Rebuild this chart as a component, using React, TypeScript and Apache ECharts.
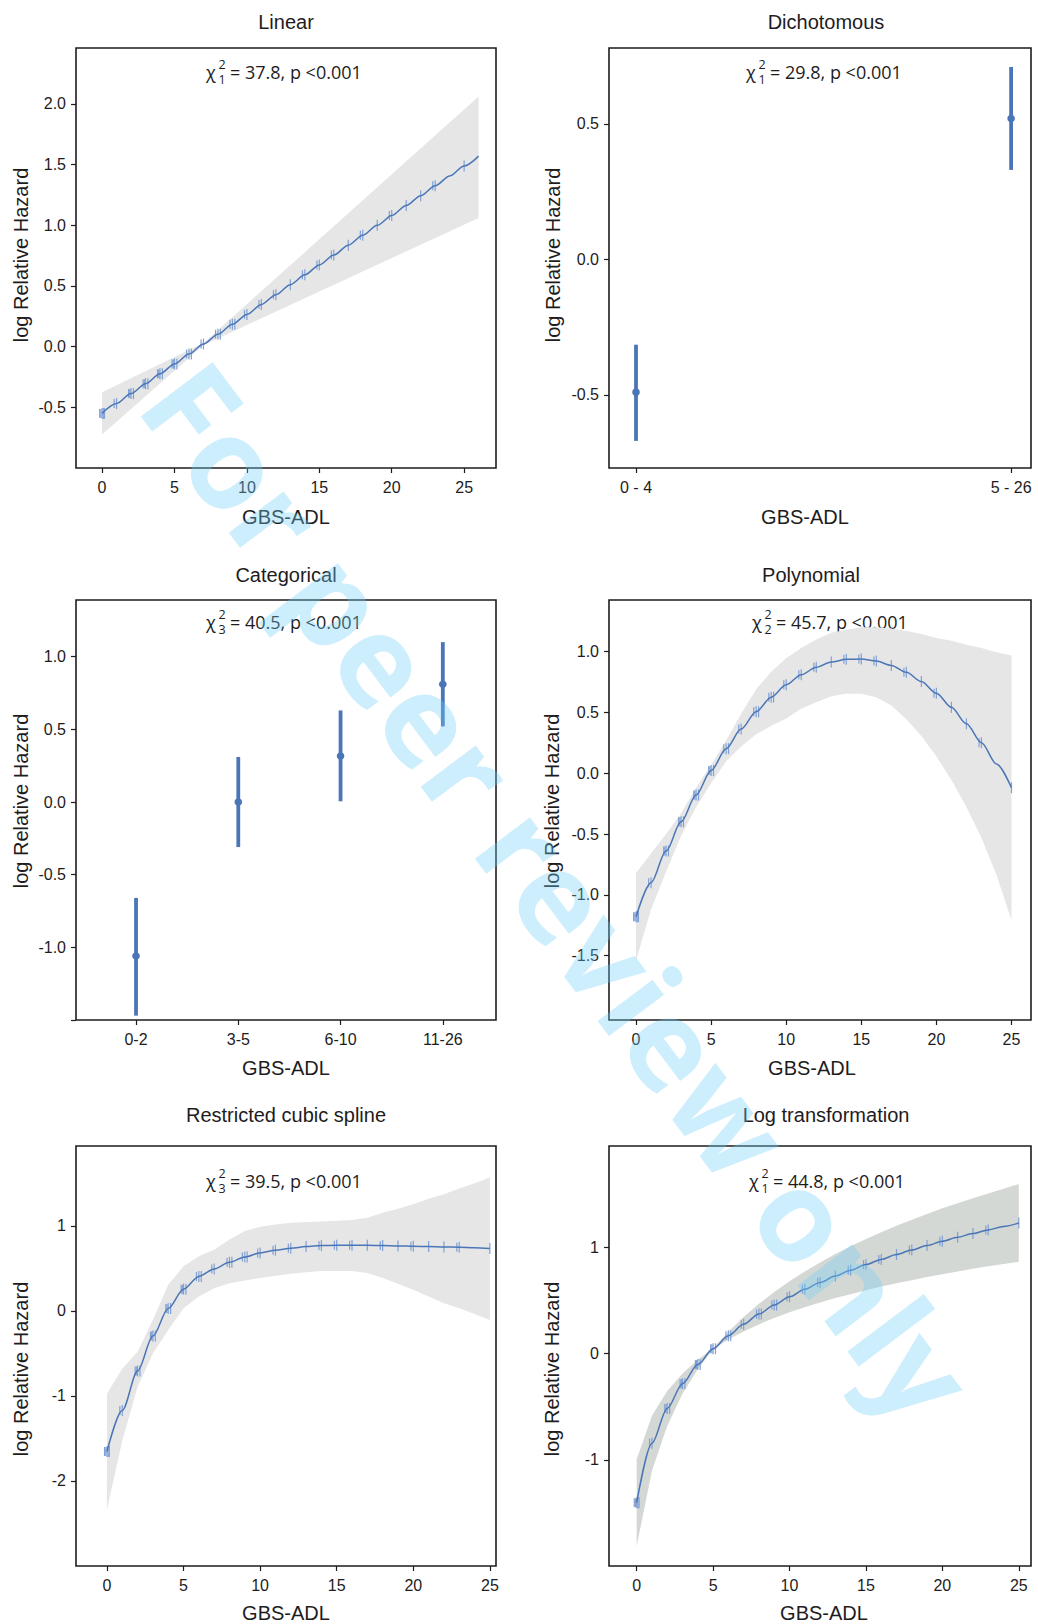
import React, { useEffect, useRef } from "react";
import * as echarts from "echarts";

// ---------------- DATA ----------------
// Linear model
const linX = [0, 1, 2, 3, 4, 5, 6, 7, 8, 9, 10, 11, 12, 13, 14, 15, 16, 17, 18, 19, 20, 21, 22, 23, 24, 25, 26];
const linY = [-0.55, -0.469, -0.387, -0.306, -0.224, -0.143, -0.061, 0.021, 0.102, 0.184, 0.265, 0.347, 0.428, 0.51, 0.591, 0.673, 0.754, 0.836, 0.917, 0.999, 1.08, 1.162, 1.243, 1.325, 1.406, 1.488, 1.569];
const linBandX = [0, 7, 26];
const linBandUpper = [-0.375, 0.03, 2.06];
const linBandLower = [-0.725, 0.012, 1.06];

// Dichotomous
const dichoCats = ["0 - 4", "5 - 26"];
const dichoEst = [-0.49, 0.52];
const dichoLower = [-0.67, 0.33];
const dichoUpper = [-0.315, 0.71];

// Categorical
const catCats = ["0-2", "3-5", "6-10", "11-26"];
const catEst = [-1.06, 0.0, 0.316, 0.81];
const catLower = [-1.47, -0.31, 0.005, 0.52];
const catUpper = [-0.66, 0.31, 0.63, 1.1];

// Shared score grid for the smooth models
const scoreX = [0, 1, 2, 3, 4, 5, 6, 7, 8, 9, 10, 11, 12, 13, 14, 15, 16, 17, 18, 19, 20, 21, 22, 23, 24, 25];

// Polynomial
const polyY = [-1.18, -0.9, -0.64, -0.4, -0.179, 0.022, 0.202, 0.363, 0.505, 0.626, 0.728, 0.81, 0.872, 0.915, 0.937, 0.94, 0.923, 0.887, 0.83, 0.754, 0.658, 0.542, 0.407, 0.251, 0.076, -0.119];
const polyUpper = [-0.82, -0.66, -0.5, -0.33, -0.12, 0.07, 0.27, 0.49, 0.69, 0.835, 0.946, 1.03, 1.1, 1.155, 1.18, 1.2, 1.2, 1.19, 1.17, 1.146, 1.113, 1.09, 1.057, 1.03, 0.996, 0.968];
const polyLower = [-1.54, -1.12, -0.81, -0.515, -0.28, -0.083, 0.098, 0.22, 0.32, 0.39, 0.45, 0.53, 0.584, 0.634, 0.654, 0.654, 0.626, 0.557, 0.445, 0.306, 0.139, -0.056, -0.278, -0.53, -0.835, -1.21];

// Restricted cubic spline
const rcsY = [-1.653, -1.17, -0.706, -0.296, 0.03, 0.256, 0.406, 0.493, 0.572, 0.635, 0.682, 0.714, 0.738, 0.757, 0.769, 0.773, 0.773, 0.773, 0.769, 0.765, 0.761, 0.757, 0.753, 0.75, 0.742, 0.734];
const rcsUpper = [-0.974, -0.68, -0.48, -0.106, 0.308, 0.525, 0.643, 0.72, 0.84, 0.939, 0.99, 1.018, 1.037, 1.045, 1.053, 1.06, 1.069, 1.097, 1.156, 1.203, 1.254, 1.32, 1.373, 1.44, 1.503, 1.57];
const rcsLower = [-2.335, -1.527, -0.895, -0.5, -0.225, 0.032, 0.17, 0.268, 0.327, 0.359, 0.387, 0.414, 0.438, 0.454, 0.469, 0.469, 0.469, 0.446, 0.387, 0.32, 0.249, 0.17, 0.091, 0.032, -0.036, -0.107];

// Log transformation
const logY = [-1.404, -0.844, -0.516, -0.283, -0.103, 0.045, 0.169, 0.277, 0.372, 0.458, 0.535, 0.605, 0.67, 0.73, 0.785, 0.838, 0.887, 0.933, 0.976, 1.018, 1.058, 1.095, 1.131, 1.165, 1.198, 1.23];
const logUpper = [-0.994, -0.584, -0.351, -0.188, -0.058, 0.05, 0.205, 0.345, 0.469, 0.58, 0.681, 0.773, 0.858, 0.937, 1.01, 1.079, 1.143, 1.204, 1.261, 1.315, 1.368, 1.416, 1.464, 1.508, 1.552, 1.596];
const logLower = [-1.814, -1.104, -0.681, -0.378, -0.148, 0.04, 0.133, 0.209, 0.275, 0.336, 0.389, 0.437, 0.482, 0.523, 0.56, 0.597, 0.631, 0.662, 0.691, 0.721, 0.748, 0.774, 0.798, 0.822, 0.844, 0.864];

// Number of observation (rug) ticks at each score 0..26
const rugCount = [5, 2, 4, 4, 4, 4, 3, 2, 3, 3, 2, 2, 2, 1, 2, 2, 2, 1, 2, 1, 2, 1, 1, 2, 0, 1, 0];

// Tick values
const scoreTicks = [0, 5, 10, 15, 20, 25];
const linYTicks = [-0.5, 0, 0.5, 1, 1.5, 2];
const dichoYTicks = [-0.5, 0, 0.5];
const catYTicks = [-1.5, -1, -0.5, 0, 0.5, 1];
const catYLabels = [-1, -0.5, 0, 0.5, 1];
const polyYTicks = [-1.5, -1, -0.5, 0, 0.5, 1];
const rcsYTicks = [-2, -1, 0, 1];
const logYTicks = [-1, 0, 1];

// Annotation texts
const titles = ["Linear", "Dichotomous", "Categorical", "Polynomial", "Restricted cubic spline", "Log transformation"];
const chiDf = ["1", "1", "3", "2", "3", "1"];
const chiStat = ["37.8", "29.8", "40.5", "45.7", "39.5", "44.8"];
const xName = "GBS-ADL";
const yName = "log Relative Hazard";
const watermark = "For peer review only";

// ---------------- STYLE / LAYOUT ----------------
const AX_FONT = "'Liberation Sans', Arial, Helvetica, sans-serif";
const CHI_FONT = "'Open Sans', 'Noto Sans', sans-serif";
const INK = "#1e1c1d";
const BLUE = "#4a76b7";
const RUG = "#7b9dd4";
const GRAY = "#e6e6e6";
const GRAY2 = "#d4d8d4";

const grids = [
  { left: 76, top: 48, width: 420, height: 420 },
  { left: 609, top: 48, width: 422, height: 420 },
  { left: 76, top: 600, width: 420, height: 420 },
  { left: 609, top: 600, width: 422, height: 420 },
  { left: 76, top: 1146, width: 420, height: 420 },
  { left: 609, top: 1146, width: 422, height: 420 },
];
const xRanges = [[-1.8, 27.2], [-0.072, 1.053], [-0.587, 3.52], [-1.8, 26.3], [-2.02, 25.4], [-1.81, 25.8]];
const yRanges = [[-1.0, 2.46], [-0.77, 0.78], [-1.5, 1.39], [-2.03, 1.425], [-3.0, 1.94], [-2.0, 1.955]];
const titlePos = [[286, 22], [826, 22], [286, 575], [811, 575], [286, 1115], [826, 1115]];
const chiPos = [[286, 72], [826, 72], [286, 622], [832, 622], [286, 1181], [829, 1181]];
const xNamePos = [[286, 517], [805, 517], [286, 1068], [812, 1068], [286, 1613], [824, 1613]];
const yNamePos = [[21, 255], [553, 255], [21, 801], [552, 801], [21, 1369], [552, 1369]];

const RUG_JITTER = [0, -2.4, 2.4, -1.2, 1.2, -3.4, 3.4];

function fmt1(v: number) {
  return (Math.abs(v) < 1e-9 ? 0 : v).toFixed(1);
}
function fmt0(v: number) {
  return String(Math.round(v));
}

function makeX(i: number, ticks: number[], formatter: (v: number) => string) {
  return {
    gridIndex: i,
    type: "value",
    min: xRanges[i][0],
    max: xRanges[i][1],
    axisLine: { show: false, onZero: false },
    splitLine: { show: false },
    axisTick: { show: true, length: 5, customValues: ticks, lineStyle: { color: INK, width: 1.2 } },
    axisLabel: { show: true, customValues: ticks, formatter, fontSize: 16, fontFamily: AX_FONT, color: INK, margin: 11 },
  };
}
function makeY(i: number, ticks: number[], labels: number[], formatter: (v: number) => string) {
  return {
    gridIndex: i,
    type: "value",
    min: yRanges[i][0],
    max: yRanges[i][1],
    axisLine: { show: false, onZero: false },
    splitLine: { show: false },
    axisTick: { show: true, length: 5, customValues: ticks, lineStyle: { color: INK, width: 1.2 } },
    axisLabel: { show: true, customValues: labels, formatter, fontSize: 16, fontFamily: AX_FONT, color: INK, margin: 10 },
  };
}

function bandSeries(i: number, xs: number[], up: number[], lo: number[], color: string) {
  return {
    type: "custom",
    xAxisIndex: i,
    yAxisIndex: i,
    silent: true,
    z: 1,
    data: [[xs[0], lo[0]]],
    encode: { x: 0, y: 1 },
    renderItem: (_p: any, api: any) => {
      const pts: number[][] = [];
      for (let k = 0; k < xs.length; k++) pts.push(api.coord([xs[k], up[k]]));
      for (let k = xs.length - 1; k >= 0; k--) pts.push(api.coord([xs[k], lo[k]]));
      return { type: "polygon", shape: { points: pts }, style: { fill: color, stroke: null } };
    },
  };
}

function rugSeries(i: number, xs: number[], ys: number[]) {
  const data = xs.map((x, k) => [x, ys[k], rugCount[k]]).filter((d) => d[2] > 0);
  return {
    type: "custom",
    xAxisIndex: i,
    yAxisIndex: i,
    silent: true,
    z: 2,
    data,
    encode: { x: 0, y: 1 },
    renderItem: (_p: any, api: any) => {
      const p = api.coord([api.value(0), api.value(1)]);
      const n = api.value(2);
      const children: any[] = [];
      for (let k = 0; k < n; k++) {
        const dx = RUG_JITTER[k % RUG_JITTER.length];
        const h = k % 2 ? 4.5 : 5.5;
        children.push({
          type: "line",
          shape: { x1: p[0] + dx, y1: p[1] - h, x2: p[0] + dx, y2: p[1] + h },
          style: { stroke: RUG, lineWidth: 1.2, opacity: 0.95 },
        });
      }
      return { type: "group", children };
    },
  };
}

function lineSeries(i: number, xs: number[], ys: number[]) {
  return {
    type: "line",
    xAxisIndex: i,
    yAxisIndex: i,
    silent: true,
    z: 3,
    data: xs.map((x, k) => [x, ys[k]]),
    showSymbol: false,
    symbol: "none",
    smooth: 0.3,
    smoothMonotone: "x",
    lineStyle: { color: BLUE, width: 1.5 },
  };
}

function errorSeries(i: number, est: number[], lo: number[], hi: number[]) {
  return {
    type: "custom",
    xAxisIndex: i,
    yAxisIndex: i,
    silent: true,
    z: 3,
    data: est.map((e, k) => [k, lo[k], e, hi[k]]),
    encode: { x: 0, y: [1, 2, 3] },
    renderItem: (_p: any, api: any) => {
      const x = api.value(0);
      const a = api.coord([x, api.value(1)]);
      const m = api.coord([x, api.value(2)]);
      const b = api.coord([x, api.value(3)]);
      return {
        type: "group",
        children: [
          { type: "line", shape: { x1: a[0], y1: a[1], x2: b[0], y2: b[1] }, style: { stroke: BLUE, lineWidth: 3.8 } },
          { type: "circle", shape: { cx: m[0], cy: m[1], r: 3.8 }, style: { fill: BLUE } },
        ],
      };
    },
  };
}

function chiGroup(k: number) {
  const [cx, cy] = chiPos[k];
  const x0 = cx - 80;
  const base = { fill: INK, fontFamily: CHI_FONT };
  return {
    type: "group",
    z: 50,
    children: [
      { type: "text", x: x0, y: cy, style: { ...base, text: "χ", fontSize: 18, align: "left", verticalAlign: "middle" } },
      { type: "text", x: x0 + 12.5, y: cy - 8, style: { ...base, text: "2", fontSize: 12.5, align: "left", verticalAlign: "middle" } },
      { type: "text", x: x0 + 12.5, y: cy + 7, style: { ...base, text: chiDf[k], fontSize: 12.5, align: "left", verticalAlign: "middle" } },
      { type: "text", x: x0 + 24, y: cy, style: { ...base, text: `= ${chiStat[k]}, p <0.001`, fontSize: 18, align: "left", verticalAlign: "middle" } },
    ],
  };
}

function buildOption() {
  const graphics: any[] = [];
  for (let k = 0; k < 6; k++) {
    graphics.push({
      type: "text",
      x: titlePos[k][0],
      y: titlePos[k][1],
      z: 50,
      style: { text: titles[k], fontSize: 20, fontFamily: AX_FONT, fill: INK, align: "center", verticalAlign: "middle" },
    });
    graphics.push(chiGroup(k));
    graphics.push({
      type: "text",
      x: xNamePos[k][0],
      y: xNamePos[k][1],
      z: 50,
      style: { text: xName, fontSize: 20, fontFamily: AX_FONT, fill: INK, align: "center", verticalAlign: "middle" },
    });
    graphics.push({
      type: "text",
      x: yNamePos[k][0],
      y: yNamePos[k][1],
      z: 50,
      rotation: Math.PI / 2,
      style: { text: yName, fontSize: 20, fontFamily: AX_FONT, fill: INK, align: "center", verticalAlign: "middle" },
    });
  }
  // translucent watermark over the figure
  graphics.push({
    type: "text",
    x: 560,
    y: 890,
    rotation: -0.9235,
    z: 100,
    silent: true,
    style: {
      text: watermark,
      fontSize: 126,
      fontWeight: "bold",
      fontFamily: "'Open Sans', 'Liberation Sans', sans-serif",
      fill: "#70cef6",
      opacity: 0.35,
      align: "center",
      verticalAlign: "middle",
    },
  });

  const dichoIdx = dichoCats.map((_c, k) => k);
  const catIdx = catCats.map((_c, k) => k);

  return {
    animation: false,
    backgroundColor: "#ffffff",
    grid: grids.map((g) => ({ ...g, show: true, borderColor: INK, borderWidth: 1.6, backgroundColor: "transparent" })),
    xAxis: [
      makeX(0, scoreTicks, fmt0),
      makeX(1, dichoIdx, (v: number) => dichoCats[Math.round(v)] ?? ""),
      makeX(2, catIdx, (v: number) => catCats[Math.round(v)] ?? ""),
      makeX(3, scoreTicks, fmt0),
      makeX(4, scoreTicks, fmt0),
      makeX(5, scoreTicks, fmt0),
    ],
    yAxis: [
      makeY(0, linYTicks, linYTicks, fmt1),
      makeY(1, dichoYTicks, dichoYTicks, fmt1),
      makeY(2, catYTicks, catYLabels, fmt1),
      makeY(3, polyYTicks, polyYTicks, fmt1),
      makeY(4, rcsYTicks, rcsYTicks, fmt0),
      makeY(5, logYTicks, logYTicks, fmt0),
    ],
    series: [
      bandSeries(0, linBandX, linBandUpper, linBandLower, GRAY),
      rugSeries(0, linX, linY),
      lineSeries(0, linX, linY),

      errorSeries(1, dichoEst, dichoLower, dichoUpper),

      errorSeries(2, catEst, catLower, catUpper),

      bandSeries(3, scoreX, polyUpper, polyLower, GRAY),
      rugSeries(3, scoreX, polyY),
      lineSeries(3, scoreX, polyY),

      bandSeries(4, scoreX, rcsUpper, rcsLower, GRAY),
      rugSeries(4, scoreX, rcsY),
      lineSeries(4, scoreX, rcsY),

      bandSeries(5, scoreX, logUpper, logLower, GRAY2),
      rugSeries(5, scoreX, logY),
      lineSeries(5, scoreX, logY),
    ],
    graphic: graphics,
  };
}

export default function App() {
  const ref = useRef<HTMLDivElement>(null);
  useEffect(() => {
    if (!ref.current) return;
    const chart = echarts.init(ref.current, undefined, { renderer: "svg" });
    chart.setOption(buildOption() as any);
    return () => chart.dispose();
  }, []);
  return (
    <div
      ref={ref}
      style={{ position: "absolute", left: 0, top: 0, width: 1038, height: 1624, background: "#fff" }}
    />
  );
}
